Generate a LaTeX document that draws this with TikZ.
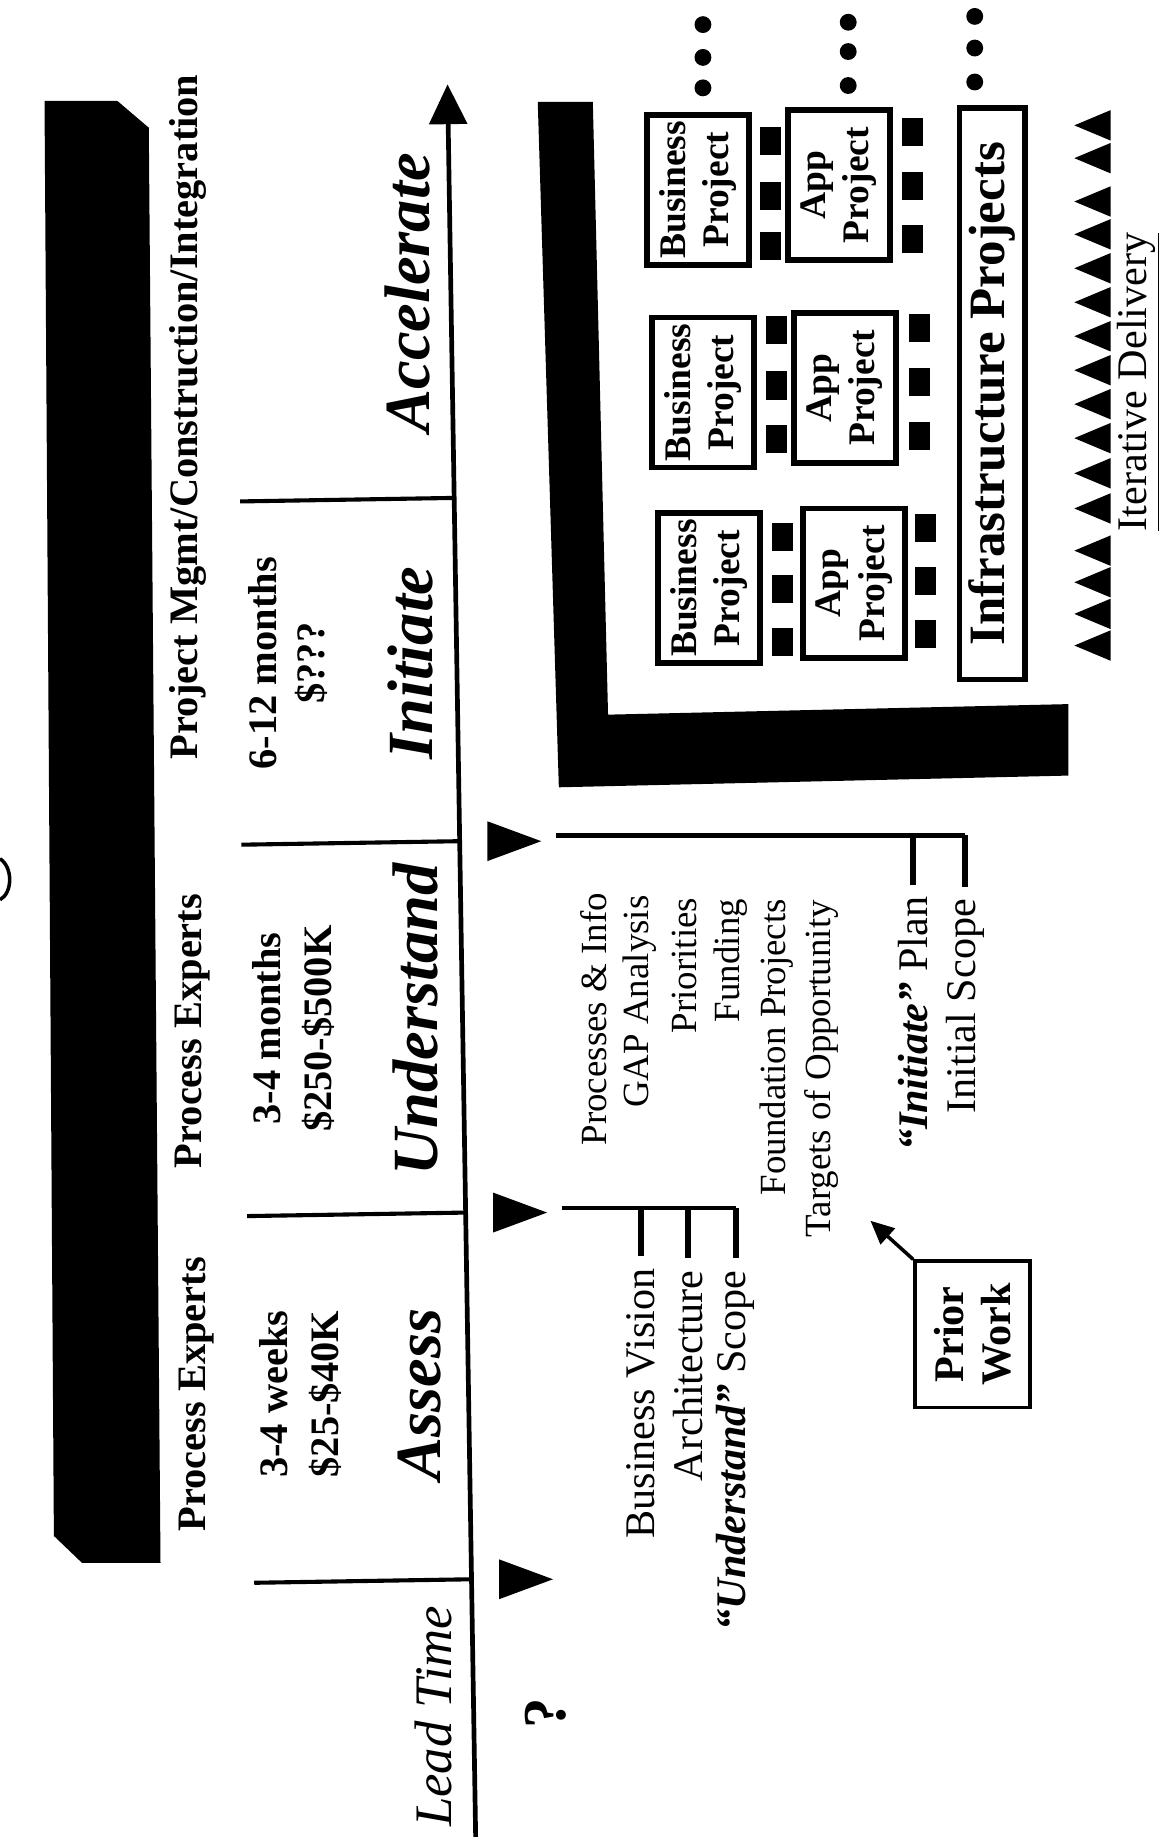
\documentclass[tikz,border=0pt]{standalone}
\usepackage{fontspec}
\setmainfont{Liberation Serif}
\usetikzlibrary{arrows.meta}
\begin{document}
\begin{tikzpicture}[x=0.5pt,y=-0.5pt,
  txt/.style={rotate=90,inner sep=0pt},
  bf/.style={txt,font=\fontsize{17.25}{20}\selectfont\bfseries},
  phase/.style={txt,font=\fontsize{27.5}{30}\selectfont\bfseries\itshape},
  lst/.style={txt,anchor=east,font=\fontsize{15.75}{18}\selectfont},
  scp/.style={txt,anchor=east,font=\fontsize{18}{20}\selectfont},
  proj/.style={rotate=90,draw,line width=2.5pt,fill=white,inner sep=0pt,align=center,
    minimum width=64pt,minimum height=43.5pt,font=\fontsize{16}{18.5}\selectfont\bfseries},
  tick/.style={line width=1.75pt},
  brk/.style={line width=2pt},
  drop/.style={line width=2.5pt,shorten >=5pt},
]
\useasboundingbox (0,0) rectangle (989,1568);
% left black bar
\fill (38,86) -- (100,86) -- (127,109) -- (137,1334) -- (70,1334) -- (46,1311) -- cycle;
% partial letter at left edge
\draw[line width=1.5pt] (0,733) .. controls (11,740) and (11,762) .. (0,768);
% column texts
\node[bf] (pm) at (160,356) {Project Mgmt/Construction/Integration};
\node[bf] (pe1) at (164,880) {Process Experts};
\node[bf] (pe2) at (168,1190) {Process Experts};
\node[bf] (d1) at (224,566) {6-12 months};
\node[bf] (c1) at (266,566) {\$???};
\node[bf] (d2) at (228,878) {3-4 months};
\node[bf] (c2) at (272,878) {\$250-\$500K};
\node[bf] (d3) at (234,1190) {3-4 weeks};
\node[bf] (c3) at (278,1190) {\$25-\$40K};
\node[phase] (acc) at (348,250) {Accelerate};
\node[phase] (ini) at (350,566) {Initiate};
\node[phase] (und) at (355,870) {Understand};
\node[phase] (ass) at (358,1190) {Assess};
\node[txt,font=\fontsize{22.5}{24}\selectfont\itshape] (lt) at (370,1465) {Lead Time};
\node[txt,font=\fontsize{26}{28}\selectfont\bfseries] (q) at (466,1462) {?};
% axis
\coordinate (axbot) at (406,1568);
\coordinate (axtop) at (382,72);
\draw[line width=2pt,-{Triangle[length=17pt,width=16pt]}] (axbot) -- (axtop);
% ticks
\coordinate (k1a) at (387.8,425); \coordinate (k1b) at (205,428);
\coordinate (k2a) at (392.5,718); \coordinate (k2b) at (206,721);
\coordinate (k3a) at (397.5,1035); \coordinate (k3b) at (211,1038);
\coordinate (k4a) at (402.5,1348); \coordinate (k4b) at (217,1351);
\draw[tick] (k1b) -- (k1a);
\draw[tick] (k2b) -- (k2a);
\draw[tick] (k3b) -- (k3a);
\draw[tick] (k4b) -- (k4a);
% phase-start triangles
\fill (416,701) -- (462,718) -- (416,735) -- cycle;
\fill (421,1018) -- (467,1035) -- (421,1052) -- cycle;
\fill (426,1331) -- (472,1348) -- (426,1365) -- cycle;
% Understand outputs list
\node[lst] (l1) at (507,762) {Processes \& Info};
\node[lst] (l2) at (546,764) {GAP Analysis};
\node[lst] (l3) at (584,766) {Priorities};
\node[lst] (l4) at (624,767) {Funding};
\node[lst] (l5) at (663,767) {Foundation Projects};
\node[lst] (l6) at (701,768) {Targets of Opportunity};
% Initiate bracket
\coordinate (ib0) at (475,713);
\node[scp] (ip) at (779,765) {\textbf{\textit{“Initiate”}} Plan};
\node[scp] (is) at (824,767) {Initial Scope};
\draw[brk] (ib0) -- (is.east |- ib0);
\draw[drop] (ip.east |- ib0) -- (ip.east);
\draw[drop] (is.east |- ib0) -- (is.east);
% Understand bracket
\coordinate (ub0) at (480,1031);
\node[scp] (bv) at (547,1082) {Business Vision};
\node[scp] (ar) at (587,1084) {Architecture};
\node[scp] (us) at (628,1084) {\textbf{\textit{“Understand”}} Scope};
\draw[brk] (ub0) -- (us.east |- ub0);
\draw[drop] (bv.east |- ub0) -- (bv.east);
\draw[drop] (ar.east |- ub0) -- (ar.east);
\draw[drop] (us.east |- ub0) -- (us.east);
% Prior work
\node[rotate=90,draw,line width=1.5pt,inner sep=0pt,minimum width=62.5pt,minimum height=49pt,
  align=center,font=\fontsize{18}{20}\selectfont\bfseries] (pw) at (830,1139) {Prior\\Work};
\coordinate (pwtip) at (743,1042);
\draw[line width=1.5pt,-{Triangle[length=10pt,width=9pt]}] (pw.north east) -- (pwtip);
% right L bar
\fill (459,87) -- (506,87) -- (519,610) -- (912,601) -- (912,662) -- (477,672) -- cycle;
% project boxes
\node[proj] (b1) at (596,162) {Business\\Project};
\node[proj] (b2) at (600,335) {Business\\Project};
\node[proj] (b3) at (605,502) {Business\\Project};
\node[proj] (a1) at (716,158) {App\\Project};
\node[proj] (a2) at (721,331) {App\\Project};
\node[proj] (a3) at (729,498) {App\\Project};
\node[rotate=90,draw,line width=2.5pt,fill=white,inner sep=0pt,minimum width=244pt,minimum height=28pt,
  font=\fontsize{21.75}{24}\selectfont\bfseries] (inf) at (847,336) {Infrastructure Projects};
% small squares
\foreach \x/\y in {658/120,658/167,658/210,663/282,663/329,663/375,668/458,668/503,668/548,
                   779/113,779/159,779/204,785/280,785/326,785/372,790/451,790/496,790/541}
  \fill ({\x-9},{\y-12}) rectangle ({\x+9},{\y+12});
% dots
\foreach \x/\y in {600/21,600/49,600/75,724/19,724/44,724/73,832/14,832/41,832/70}
  \fill (\x,\y) circle[radius=3.6pt];
% iterative delivery triangles
\foreach \y in {107,135,172,200,229,258,287,316,345,374,404,434,470,497,524,551}
  \fill (917,\y) -- (948,{\y-13}) -- (948,{\y+13}) -- cycle;
\node[txt,font=\fontsize{18}{20}\selectfont] (itd) at (972,326) {\underline{Iterative Delivery}};
\end{tikzpicture}
\end{document}
